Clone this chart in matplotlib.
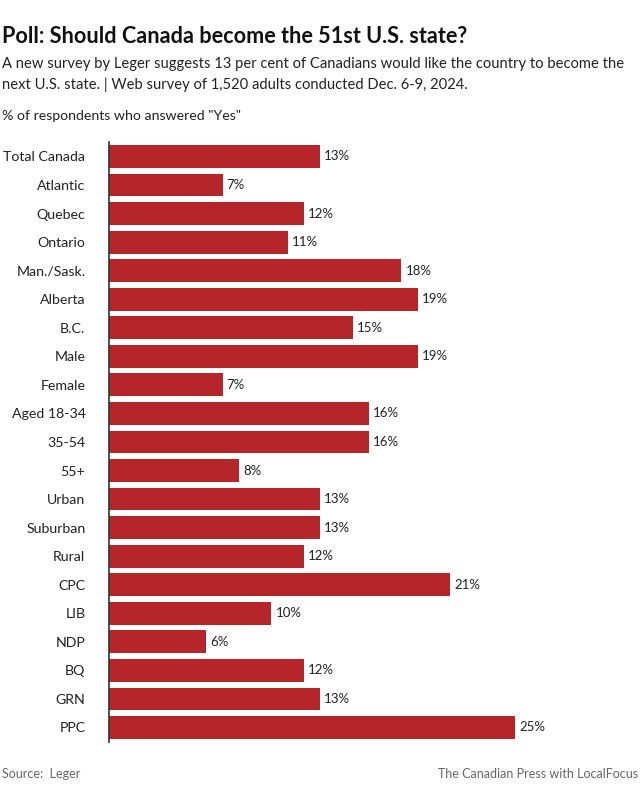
import matplotlib
matplotlib.use("Agg")
import matplotlib.pyplot as plt

plt.rcParams["font.family"] = ["Lato", "DejaVu Sans"]

categories = ["Total Canada", "Atlantic", "Quebec", "Ontario", "Man./Sask.", "Alberta",
              "B.C.", "Male", "Female", "Aged 18-34", "35-54", "55+", "Urban",
              "Suburban", "Rural", "CPC", "LIB", "NDP", "BQ", "GRN", "PPC"]
values = [13, 7, 12, 11, 18, 19, 15, 19, 7, 16, 16, 8, 13, 13, 12, 21, 10, 6, 12, 13, 25]

BAR = "#b5252a"
TEXT = "#222222"

fig = plt.figure(figsize=(6.4, 8.0), dpi=100)
ax = fig.add_axes([109 / 640, 0.0728, 1 - 109 / 640, 0.7495])

y = range(len(categories))
ax.barh(y, values, height=0.8, color=BAR)
for yi, v in zip(y, values):
    ax.text(v + 0.25, yi, f"{v}%", va="center", ha="left", fontsize=9.5, color=TEXT)

ax.set_xlim(0, 531 / 16.24)
ax.set_ylim(len(categories) - 0.5, -0.5)
ax.set_yticks(list(y))
ax.set_yticklabels(categories, fontsize=10.2, color=TEXT)
ax.tick_params(axis="y", length=0, pad=17)
ax.set_xticks([])
for side in ["top", "right", "bottom"]:
    ax.spines[side].set_visible(False)
ax.spines["left"].set_color("#333333")
ax.spines["left"].set_linewidth(1.2)

fig.text(2 / 640, 1 - 43 / 800, "Poll: Should Canada become the 51st U.S. state?",
         fontsize=15.6, fontweight="bold", color="#111111")
fig.text(2 / 640, 1 - 68 / 800,
         "A new survey by Leger suggests 13 per cent of Canadians would like the country to become the",
         fontsize=10.6, color=TEXT)
fig.text(2 / 640, 1 - 89 / 800,
         "next U.S. state. | Web survey of 1,520 adults conducted Dec. 6-9, 2024.",
         fontsize=10.6, color=TEXT)
fig.text(2 / 640, 1 - 120 / 800, '% of respondents who answered "Yes"',
         fontsize=10.2, color=TEXT)
fig.text(2 / 640, 1 - 778 / 800, "Source:  Leger", fontsize=9, color="#666666")
fig.text(1 - 2 / 640, 1 - 778 / 800, "The Canadian Press with LocalFocus",
         fontsize=9, color="#666666", ha="right")

fig.savefig("out.png", dpi=100)
